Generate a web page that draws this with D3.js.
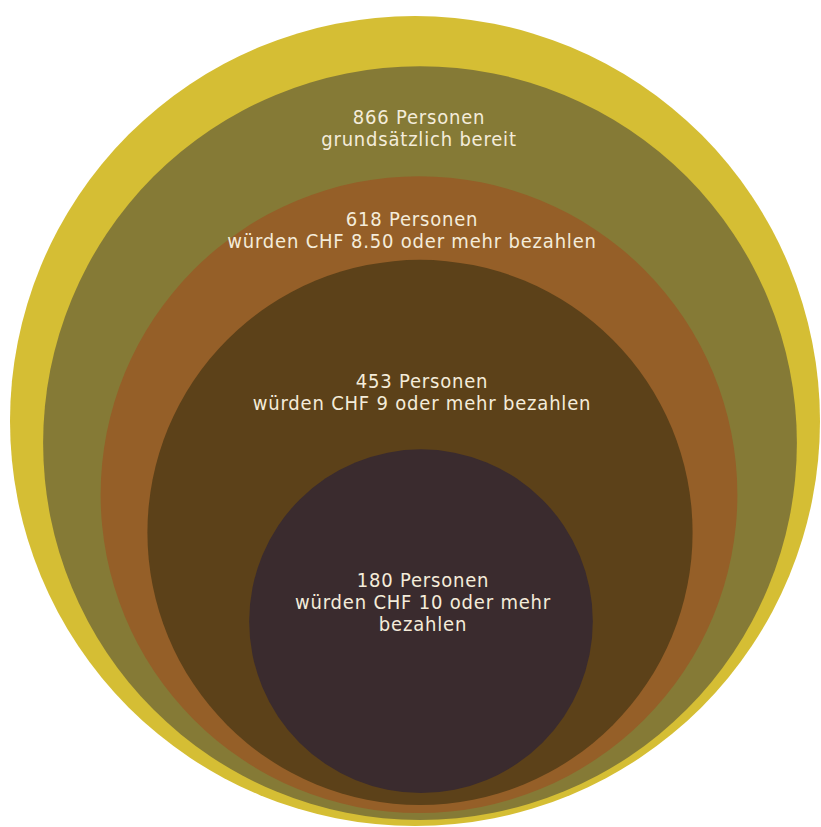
<!DOCTYPE html>
<html>
<head>
<meta charset="utf-8">
<script src="https://cdn.jsdelivr.net/npm/d3@7"></script>
<style>
  html, body { margin: 0; padding: 0; background: #ffffff; }
  svg { display: block; }
  text { font-family: "DejaVu Sans Condensed", "Liberation Sans Narrow", sans-serif; }
</style>
</head>
<body>
<svg id="chart" width="821" height="827"></svg>
<script>
// ---- data ----
const groups = ["Total", "grundsätzlich bereit", "CHF 8.50 oder mehr", "CHF 9 oder mehr", "CHF 10 oder mehr"];
const counts = [1000, 866, 618, 453, 180];
const captions = [
  [],
  ["grundsätzlich bereit"],
  ["würden CHF 8.50 oder mehr bezahlen"],
  ["würden CHF 9 oder mehr bezahlen"],
  ["würden CHF 10 oder mehr", "bezahlen"]
];
const colors = ["#d5be34", "#857a36", "#955f28", "#5c4119", "#3a2b2e"];

// ---- layout ----
const bottomY = 826;
const bottomInsets = [0, 6, 13, 21, 33];
const centerX = [415, 420, 419, 420, 421];
const labelY = [0, 124, 226, 388, 587];
const labelX = [0, 419, 412, 422, 423];
const lineHeight = 22;

const r = d3.scaleSqrt().domain([0, 1000]).range([0, 405]);

const nodes = counts.map((c, i) => ({
  group: groups[i],
  count: c,
  r: r(c),
  cx: centerX[i],
  cy: bottomY - bottomInsets[i] - r(c),
  color: colors[i],
  lines: i === 0 ? [] : [`${c} Personen`, ...captions[i]],
  ly: labelY[i],
  lx: labelX[i]
}));

const svg = d3.select("#chart");

svg.selectAll("circle")
  .data(nodes)
  .join("circle")
  .attr("cx", d => d.cx)
  .attr("cy", d => d.cy)
  .attr("r", d => d.r)
  .attr("fill", d => d.color);

const labels = svg.selectAll("g.label")
  .data(nodes.filter(d => d.lines.length))
  .join("g")
  .attr("class", "label");

labels.each(function(d) {
  d3.select(this).selectAll("text")
    .data(d.lines)
    .join("text")
    .attr("text-anchor", "middle")
    .attr("fill", "#f4ecda")
    .attr("font-size", 20)
    .attr("letter-spacing", 0.8)
    .attr("x", d.lx)
    .attr("y", (l, j) => d.ly + j * lineHeight)
    .text(l => l);
});
</script>
</body>
</html>
